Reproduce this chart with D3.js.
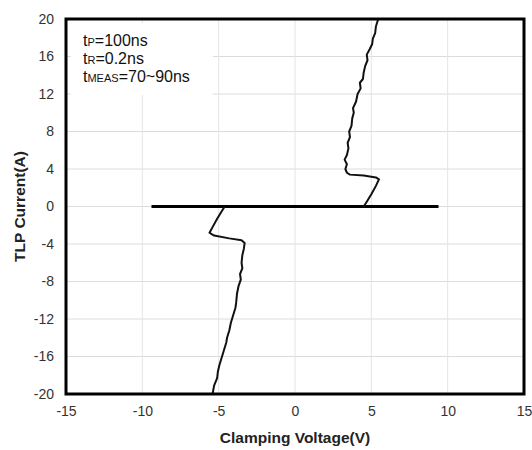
<!DOCTYPE html>
<html>
<head>
<meta charset="utf-8">
<script src="https://cdn.jsdelivr.net/npm/d3@7"></script>
<style>
  body { margin: 0; background: #fff; }
  svg { display: block; font-family: "Liberation Sans", Arial, sans-serif; }
</style>
</head>
<body>
<script>
// tick labels
const xTicks = [-15, -10, -5, 0, 5, 10, 15]
const yTicks = [-20, -16, -12, -8, -4, 0, 4, 8, 12, 16, 20]

// horizontal zero-current line (V)
const baseV = [-9.4, 9.4]

// positive branch: voltage (V), current (A)
const posV = [4.5, 4.7, 5.0, 5.3, 5.5, 5.3, 4.5, 3.6, 3.4, 3.3, 3.4, 3.25, 3.4, 3.5, 3.45, 3.6, 3.55, 3.7, 3.75, 3.85, 3.8, 4.0, 4.1, 4.3, 4.25, 4.45, 4.5, 4.6, 4.75, 4.7, 4.9, 5.05, 5.1, 5.25, 5.3, 5.45]
const posI = [0, 0.5, 1.3, 2.2, 2.9, 3.1, 3.3, 3.4, 3.6, 4.0, 4.5, 5.0, 5.5, 6.2, 6.8, 7.4, 8.0, 8.6, 9.4, 10.0, 10.5, 11.2, 12.0, 12.6, 13.2, 13.6, 14.3, 15.0, 15.6, 16.2, 16.8, 17.3, 17.9, 18.5, 19.2, 20]

// negative branch
const negV = [-4.6, -4.8, -5.1, -5.4, -5.6, -5.3, -4.3, -3.5, -3.3, -3.35, -3.45, -3.5, -3.45, -3.6, -3.55, -3.7, -3.8, -3.85, -3.9, -4.05, -4.2, -4.3, -4.45, -4.5, -4.65, -4.8, -4.95, -5.05, -5.1, -5.3, -5.4]
const negI = [0, -0.5, -1.3, -2.2, -2.8, -3.1, -3.4, -3.6, -3.9, -4.5, -5.2, -6.0, -6.6, -7.2, -7.8, -8.5, -9.3, -10.2, -10.8, -11.6, -12.4, -13.2, -14.0, -14.5, -15.3, -16.1, -16.9, -17.6, -18.3, -19.1, -20]

const W = 532, H = 450
const margin = {top: 19, right: 8, bottom: 56, left: 66}
const width = W - margin.left - margin.right,
      height = H - margin.top - margin.bottom

const svg = d3.select("body").append("svg")
    .attr("width", W)
    .attr("height", H)

const g = svg.append("g")
    .attr("transform", `translate(${margin.left}, ${margin.top})`)

const x = d3.scaleLinear().domain([-15, 15]).range([0, width])
const y = d3.scaleLinear().domain([-20, 20]).range([height, 0])

// grid
g.append("g")
    .selectAll("line")
    .data(yTicks.slice(1, -1))
    .join("line")
    .attr("x1", 0).attr("x2", width)
    .attr("y1", d => y(d)).attr("y2", d => y(d))
    .attr("stroke", "#dcdcdc")
g.append("g")
    .selectAll("line")
    .data(xTicks.slice(1, -1))
    .join("line")
    .attr("y1", 0).attr("y2", height)
    .attr("x1", d => x(d)).attr("x2", d => x(d))
    .attr("stroke", "#e4e4e4")

// axes (labels only), plain hyphen for negatives
const xAxis = g.append("g")
    .attr("transform", `translate(0, ${height})`)
    .call(d3.axisBottom(x).tickValues(xTicks).tickSize(0).tickPadding(12).tickFormat(d => String(d)))
const yAxis = g.append("g")
    .call(d3.axisLeft(y).tickValues(yTicks).tickSize(0).tickPadding(12).tickFormat(d => String(d)))
;[xAxis, yAxis].forEach(a => {
    a.select(".domain").remove()
    a.selectAll("text").attr("font-size", 14).attr("fill", "#333")
        .attr("font-family", "Liberation Sans, Arial, sans-serif")
})

// legend box
const leg = g.append("g").attr("transform", "translate(5, 4)")
leg.append("rect")
    .attr("width", 142).attr("height", 72)
    .attr("fill", "#fff")
const legLines = [["P", "=100ns"], ["R", "=0.2ns"], ["MEAS", "=70~90ns"]]
legLines.forEach((l, i) => {
    const t = leg.append("text")
        .attr("x", 12).attr("y", 23 + i * 18)
        .attr("font-size", 16).attr("fill", "#111")
    t.append("tspan").text("t")
    t.append("tspan").attr("font-size", 11).text(l[0])
    t.append("tspan").text(l[1])
})

// curves
const line = d3.line().x(d => x(d[0])).y(d => y(d[1]))
g.append("path")
    .datum(baseV.map(v => [v, 0]))
    .attr("d", line)
    .attr("stroke", "#000").attr("stroke-width", 3).attr("fill", "none")
g.append("path")
    .datum(posV.map((v, i) => [v, posI[i]]))
    .attr("d", line)
    .attr("stroke", "#111").attr("stroke-width", 2).attr("fill", "none")
    .attr("stroke-linejoin", "round")
g.append("path")
    .datum(negV.map((v, i) => [v, negI[i]]))
    .attr("d", line)
    .attr("stroke", "#111").attr("stroke-width", 2).attr("fill", "none")
    .attr("stroke-linejoin", "round")

// frame
g.append("rect")
    .attr("width", width).attr("height", height)
    .attr("fill", "none").attr("stroke", "#000").attr("stroke-width", 3)

// axis titles
svg.append("text")
    .attr("x", margin.left + x(0)).attr("y", 443)
    .attr("text-anchor", "middle")
    .attr("font-size", 15.5).attr("font-weight", "bold").attr("fill", "#222")
    .text("Clamping Voltage(V)")
svg.append("text")
    .attr("transform", `translate(25, ${margin.top + y(0)}) rotate(-90)`)
    .attr("text-anchor", "middle")
    .attr("font-size", 15.5).attr("font-weight", "bold").attr("fill", "#222")
    .text("TLP Current(A)")
</script>
</body>
</html>
